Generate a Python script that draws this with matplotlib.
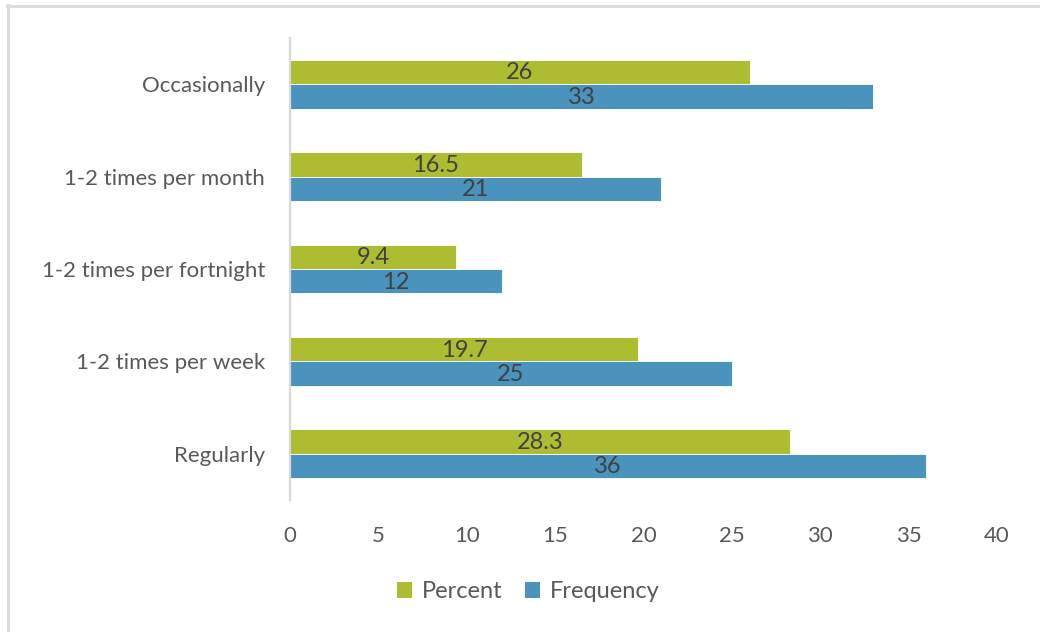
import matplotlib
matplotlib.use("Agg")
import matplotlib.pyplot as plt
import numpy as np
from matplotlib.patches import Patch
from matplotlib.lines import Line2D

categories = ["Regularly", "1-2 times per week", "1-2 times per fortnight",
              "1-2 times per month", "Occasionally"]
percent = [28.3, 19.7, 9.4, 16.5, 26]
frequency = [36, 25, 12, 21, 33]
x_ticks = [0, 5, 10, 15, 20, 25, 30, 35, 40]

green = "#AEBC32"
blue = "#4A93BD"
text_gray = "#595959"
label_dark = "#404040"

plt.rcParams["font.family"] = ["Lato", "DejaVu Sans"]

fig = plt.figure(figsize=(10.4, 6.32), dpi=100)
ax = fig.add_axes([290 / 1040, 132 / 632, 707 / 1040, 462 / 632])

y = np.arange(len(categories))
h = 0.265
bars_p = ax.barh(y + h / 2, percent, height=h, color=green, edgecolor="white",
                 linewidth=0.6)
bars_f = ax.barh(y - h / 2, frequency, height=h, color=blue, edgecolor="white",
                 linewidth=0.6)

for bars, vals in ((bars_p, percent), (bars_f, frequency)):
    for b, v in zip(bars, vals):
        ax.text(b.get_x() + b.get_width() / 2, b.get_y() + b.get_height() / 2 - 0.01,
                f"{v:g}", ha="center", va="center", fontsize=17, color=label_dark)

ax.set_xlim(0, 40)
ax.set_ylim(-0.5, len(categories) - 0.5)
ax.set_xticks(x_ticks)
ax.set_yticks(y)
ax.set_yticklabels(categories)
ax.tick_params(axis="both", length=0, colors=text_gray)
ax.tick_params(axis="y", pad=18, labelsize=16)
ax.tick_params(axis="x", pad=19, labelsize=16)

for s in ("top", "right", "bottom"):
    ax.spines[s].set_visible(False)
ax.spines["left"].set_color("#D9D9D9")
ax.spines["left"].set_linewidth(1.6)

handles = [Patch(facecolor=green, edgecolor="none", label="Percent"),
           Patch(facecolor=blue, edgecolor="none", label="Frequency")]
fig.legend(handles=handles, loc="center", bbox_to_anchor=(528 / 1040, 1 - 592 / 632),
           ncol=2, frameon=False, fontsize=17, labelcolor=text_gray,
           handlelength=0.65, handleheight=0.65, handletextpad=0.4, columnspacing=0.95)

# light frame along the top and left edges
fig.add_artist(Line2D([8 / 1040, 8 / 1040], [0, 1 - 5 / 632], transform=fig.transFigure,
                      color="#DCDCDC", linewidth=2.2))
fig.add_artist(Line2D([7 / 1040, 1], [1 - 6 / 632, 1 - 6 / 632], transform=fig.transFigure,
                      color="#DCDCDC", linewidth=2.2))

fig.savefig("out.png", dpi=100, facecolor="white")
